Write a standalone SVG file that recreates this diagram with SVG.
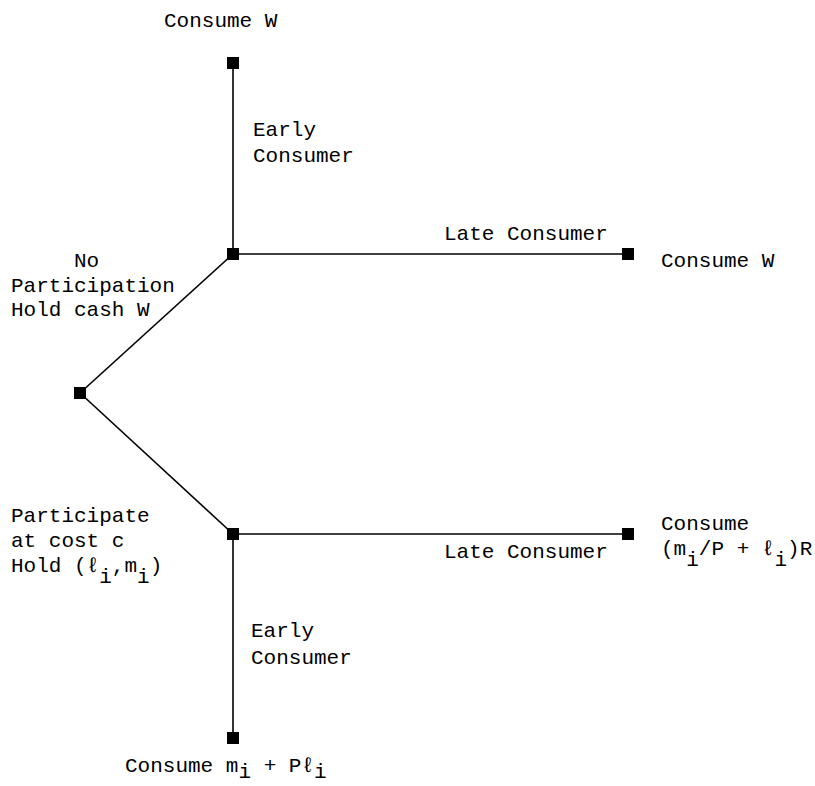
<svg xmlns="http://www.w3.org/2000/svg" width="815" height="786" viewBox="0 0 815 786">
<style>
text{font-family:"Liberation Mono","DejaVu Sans Mono",monospace;font-size:21px;fill:#000}
.ln{stroke:#000;stroke-width:1.6;fill:none}
.nd{fill:#000}
</style>
<rect width="815" height="786" fill="#fff"/>
<g id="connectors">
<line class="ln" x1="233" y1="63" x2="233" y2="254"/>
<line class="ln" x1="233" y1="254" x2="628" y2="254"/>
<line class="ln" x1="80" y1="393" x2="233" y2="254"/>
<line class="ln" x1="80" y1="393" x2="233" y2="534"/>
<line class="ln" x1="233" y1="534" x2="628" y2="534"/>
<line class="ln" x1="233" y1="534" x2="233" y2="738"/>
</g>
<g id="root"><rect class="nd" x="74" y="387" width="12" height="12"/>
<text x="74" y="267">No</text><text x="11" y="292">Participation</text><text x="11" y="316">Hold cash W</text>
<text x="11" y="522">Participate</text><text x="11" y="547">at cost c</text>
<text x="11" y="572">Hold (ℓ<tspan dy="11">i</tspan><tspan dy="-11">,m</tspan><tspan dy="11">i</tspan><tspan dy="-11">)</tspan></text></g>
<g id="upper"><rect class="nd" x="227" y="248" width="12" height="12"/>
<text x="253" y="136">Early</text><text x="253" y="162">Consumer</text>
<text x="444" y="240">Late Consumer</text></g>
<g id="upper-early"><rect class="nd" x="227" y="57" width="12" height="12"/><text x="164" y="27">Consume W</text></g>
<g id="upper-late"><rect class="nd" x="622" y="248" width="12" height="12"/><text x="661" y="267">Consume W</text></g>
<g id="lower"><rect class="nd" x="227" y="528" width="12" height="12"/>
<text x="444" y="558">Late Consumer</text>
<text x="251" y="637">Early</text><text x="251" y="664">Consumer</text></g>
<g id="lower-late"><rect class="nd" x="622" y="528" width="12" height="12"/>
<text x="661" y="530">Consume</text>
<text x="661" y="555">(m<tspan dy="11">i</tspan><tspan dy="-11">/P + ℓ</tspan><tspan dy="11">i</tspan><tspan dy="-11">)R</tspan></text></g>
<g id="lower-early"><rect class="nd" x="227" y="732" width="12" height="12"/>
<text x="125" y="772">Consume m<tspan dy="6">i</tspan><tspan dy="-6"> + Pℓ</tspan><tspan dy="6">i</tspan></text></g>
</svg>
